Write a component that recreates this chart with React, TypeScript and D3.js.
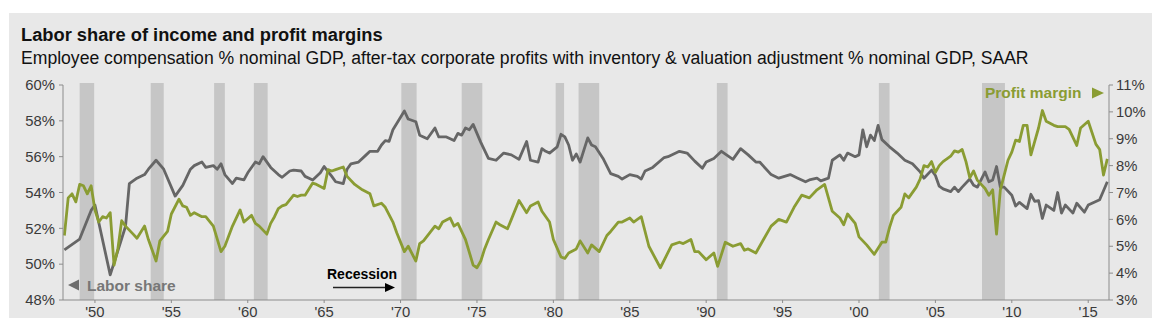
import React from "react";
import * as d3 from "d3";

const laborYears = [1948.0,1949.0,1949.75,1950.0,1951.0,1952.0,1952.25,1952.75,1953.25,1953.5,1954.0,1954.5,1955.25,1955.75,1956.25,1956.5,1957.0,1957.25,1957.75,1958.0,1958.25,1958.5,1959.0,1959.25,1959.75,1960.0,1960.5,1960.75,1961.0,1961.5,1962.0,1962.25,1962.75,1963.0,1963.5,1963.75,1964.25,1964.75,1965.0,1965.5,1965.75,1966.25,1966.5,1966.75,1967.25,1967.75,1968.0,1968.5,1968.75,1969.0,1969.25,1969.5,1970.0,1970.25,1970.5,1971.0,1971.25,1971.75,1972.25,1972.5,1973.0,1973.5,1973.75,1974.0,1974.25,1974.5,1974.75,1975.25,1975.75,1976.25,1976.75,1977.25,1977.75,1978.25,1978.5,1979.0,1979.25,1979.5,1979.75,1980.25,1980.5,1980.75,1981.0,1981.25,1981.5,1981.75,1982.25,1982.5,1982.75,1983.25,1983.75,1984.25,1984.5,1985.0,1985.5,1985.75,1986.0,1986.5,1987.25,1987.5,1988.25,1988.75,1989.25,1989.75,1990.0,1990.5,1991.0,1991.75,1992.25,1992.75,1993.25,1993.5,1994.25,1994.75,1995.5,1996.0,1996.5,1996.75,1997.25,1997.5,1998.0,1998.25,1998.75,1999.0,1999.25,1999.75,2000.0,2000.25,2000.5,2000.75,2001.0,2001.25,2001.5,2002.0,2002.5,2003.0,2003.5,2004.0,2004.25,2004.75,2005.0,2005.25,2005.5,2006.0,2006.25,2006.5,2006.75,2007.25,2007.5,2007.75,2008.25,2008.5,2008.75,2009.0,2009.25,2009.5,2010.0,2010.25,2010.5,2011.0,2011.25,2011.5,2011.75,2012.0,2012.25,2012.75,2013.0,2013.25,2013.5,2014.0,2014.25,2014.75,2015.0,2015.75,2016.0,2016.25];
const laborShare = [50.8,51.4,53.0,53.3,49.4,52.1,54.5,54.8,55.0,55.3,55.8,55.3,53.8,54.4,55.3,55.5,55.7,55.4,55.5,55.3,55.6,55.0,54.5,54.8,54.7,55.1,55.7,55.6,56.0,55.4,55.0,54.85,55.2,55.25,55.2,54.9,54.7,55.1,55.45,54.9,54.6,54.5,55.3,55.6,55.7,56.1,56.3,56.3,56.65,56.9,56.85,57.5,58.2,58.55,58.1,57.95,57.2,57.0,57.6,57.1,57.1,56.9,57.3,57.2,57.6,57.5,57.8,56.8,55.9,55.8,56.2,56.1,55.85,56.85,55.8,55.7,56.45,56.3,56.2,56.55,57.25,57.1,56.65,55.8,56.15,55.7,57.05,56.65,56.55,55.9,55.05,54.9,54.75,55.0,54.9,54.75,55.2,55.4,55.95,56.0,56.3,56.2,55.75,55.35,55.7,55.9,56.3,55.85,56.45,56.1,55.7,55.7,55.0,54.8,55.0,54.8,54.6,54.7,54.8,54.65,54.8,55.8,56.1,55.8,56.2,56.0,56.1,57.5,56.55,57.2,56.9,57.75,56.95,56.55,56.2,55.8,55.6,55.15,54.8,55.25,54.95,54.35,54.2,54.05,54.3,54.05,54.3,54.75,54.4,54.3,55.15,54.6,54.7,55.45,54.3,54.3,53.85,53.25,53.45,53.1,53.9,53.5,53.55,52.55,53.3,53.0,54.0,52.85,53.3,52.85,53.4,52.9,53.3,53.6,54.1,54.6];

const profitYears = [1948.0,1948.25,1948.5,1948.75,1949.0,1949.25,1949.5,1949.75,1950.0,1950.25,1950.5,1950.75,1951.0,1951.25,1951.5,1951.75,1952.0,1952.5,1952.75,1953.25,1953.5,1954.0,1954.25,1954.75,1955.0,1955.5,1955.75,1956.0,1956.25,1956.5,1957.0,1957.25,1957.75,1958.25,1958.5,1959.0,1959.5,1959.75,1960.25,1960.5,1960.75,1961.25,1961.5,1961.75,1962.0,1962.25,1962.5,1963.0,1963.25,1963.5,1963.75,1964.25,1964.5,1965.0,1965.25,1965.5,1965.75,1966.25,1966.5,1967.0,1967.5,1968.0,1968.25,1968.75,1969.0,1969.5,1969.75,1970.25,1970.5,1971.0,1971.25,1971.5,1972.25,1972.5,1972.75,1973.25,1973.5,1973.75,1974.25,1974.75,1975.0,1975.25,1975.5,1975.75,1976.25,1976.5,1977.0,1977.25,1977.75,1978.25,1978.5,1979.0,1979.25,1979.75,1980.0,1980.5,1980.75,1981.0,1981.5,1981.75,1982.25,1982.5,1983.0,1983.5,1983.75,1984.25,1984.5,1985.0,1985.25,1985.75,1986.25,1987.0,1987.75,1988.25,1988.5,1989.0,1989.25,1989.5,1990.0,1990.5,1990.75,1991.25,1991.75,1992.25,1992.5,1992.75,1993.25,1993.75,1994.25,1994.75,1995.25,1995.75,1996.25,1996.75,1997.25,1997.75,1998.25,1998.75,1999.0,1999.25,1999.75,2000.0,2000.5,2001.0,2001.5,2001.75,2002.0,2002.25,2002.75,2003.0,2003.25,2003.75,2004.0,2004.25,2004.5,2004.75,2005.0,2005.25,2005.5,2006.0,2006.25,2006.5,2006.75,2007.0,2007.25,2007.5,2007.75,2008.25,2008.5,2008.75,2009.0,2009.25,2009.5,2009.75,2010.0,2010.25,2010.5,2010.75,2011.0,2011.25,2011.5,2011.75,2012.0,2012.25,2012.75,2013.0,2013.5,2013.75,2014.25,2014.5,2015.0,2015.5,2015.75,2016.0,2016.25];
const profitMargin = [5.4,6.8,6.95,6.65,7.3,7.25,6.95,7.25,6.35,5.9,6.1,6.05,6.25,4.3,4.9,5.95,5.75,5.45,5.3,5.75,5.25,4.45,5.2,5.55,6.2,6.75,6.5,6.45,6.15,6.25,6.1,6.1,5.75,4.8,5.0,5.75,6.35,5.9,6.15,5.85,5.75,5.45,5.85,6.1,6.4,6.5,6.55,6.9,6.85,6.9,6.9,7.35,7.3,7.15,7.85,7.8,7.85,7.95,7.6,7.3,7.1,6.95,6.5,6.6,6.45,5.9,5.5,4.8,5.0,4.45,5.1,5.2,5.75,5.65,5.9,6.05,5.75,5.85,5.25,4.3,4.2,4.45,4.9,5.25,5.9,5.8,5.65,6.0,6.7,6.25,6.5,6.65,6.3,5.9,5.25,4.6,4.55,4.75,4.9,5.2,4.75,5.05,4.8,5.4,5.55,5.9,5.9,6.05,5.9,6.1,5.0,4.2,5.05,5.15,5.1,5.25,4.8,4.8,4.5,4.75,4.25,5.15,5.0,5.1,4.85,4.9,4.75,5.25,5.75,6.0,5.9,6.45,6.9,6.8,7.1,7.3,6.3,6.05,5.8,6.2,5.85,5.35,5.05,4.7,5.15,5.15,5.7,6.15,6.45,6.95,6.8,7.2,7.5,8.0,7.95,8.15,7.75,8.0,8.15,8.35,8.55,8.5,8.6,8.15,7.55,7.8,7.45,7.15,6.9,7.1,5.45,7.1,7.65,8.2,8.5,8.95,8.9,9.5,9.5,8.4,8.9,9.4,10.05,9.65,9.5,9.45,9.45,9.35,8.75,9.4,9.65,8.8,8.6,7.65,8.25];

const recessionStarts = [1949.0,1953.65,1957.8,1960.4,1970.05,1974.0,1980.15,1981.65,1990.7,2001.3,2008.05];
const recessionEnds = [1949.95,1954.5,1958.5,1961.3,1971.05,1975.35,1980.7,1983.0,1991.4,2002.0,2009.55];

const xTickYears = [1950,1955,1960,1965,1970,1975,1980,1985,1990,1995,2000,2005,2010,2015];
const leftTicks = [48,50,52,54,56,58,60];
const rightTicks = [3,4,5,6,7,8,9,10,11];

const title = "Labor share of income and profit margins";
const subtitle = "Employee compensation % nominal GDP, after-tax corporate profits with inventory & valuation adjustment % nominal GDP, SAAR";

const FONT = "'Liberation Sans', Arial, Helvetica, sans-serif";
const GRAY_LINE = "#666666";
const GREEN = "#8a9c33";

export default function App() {
  const left = 63, right = 1109, top = 85, bottom = 300;
  const x = d3.scaleLinear().domain([1947.91, 2016.36]).range([left, right]);
  const yL = d3.scaleLinear().domain([48, 60]).range([bottom, top]);
  const yR = d3.scaleLinear().domain([3, 11]).range([bottom, top]);

  const laborData = laborYears.map((yr, i) => [yr, laborShare[i]] as [number, number]);
  const profitData = profitYears.map((yr, i) => [yr, profitMargin[i]] as [number, number]);

  const laborLine = d3.line<[number, number]>().x(d => x(d[0])).y(d => yL(d[1]));
  const profitLine = d3.line<[number, number]>().x(d => x(d[0])).y(d => yR(d[1]));

  const axisColor = "#8c8c8c";
  const tickText = "#3a3a3a";

  return (
    <svg width={1166} height={332} style={{ position: "absolute", left: 0, top: 0, display: "block" }} fontFamily={FONT}>
      <rect x={0} y={0} width={1166} height={332} fill="#ffffff" />
      <rect x={9} y={13} width={1143} height={305} fill="#e8e8e8" />
      <text x={21} y={41} fontSize={18.3} fontWeight="bold" fill="#111">{title}</text>
      <text x={21} y={63.5} fontSize={17.6} fill="#111">{subtitle}</text>

      {recessionStarts.map((s, i) => (
        <rect key={"r" + i} x={x(s)} y={top - 2} width={x(recessionEnds[i]) - x(s)} height={bottom - top + 2} fill="#c6c6c6" />
      ))}

      <path d={laborLine(laborData) || ""} fill="none" stroke={GRAY_LINE} strokeWidth={2.8} strokeLinejoin="round" />
      <path d={profitLine(profitData) || ""} fill="none" stroke={GREEN} strokeWidth={2.8} strokeLinejoin="round" />

      <line x1={left} x2={left} y1={top} y2={bottom} stroke={axisColor} strokeWidth={1} />
      <line x1={right} x2={right} y1={top} y2={bottom} stroke={axisColor} strokeWidth={1} />
      <line x1={left} x2={right} y1={bottom} y2={bottom} stroke={axisColor} strokeWidth={1} />

      {leftTicks.map(t => (
        <g key={"l" + t}>
          <line x1={left - 4} x2={left} y1={yL(t)} y2={yL(t)} stroke={axisColor} />
          <text x={55} y={yL(t)} dy="0.35em" textAnchor="end" fontSize={14.8} fill={tickText}>{t}%</text>
        </g>
      ))}
      {rightTicks.map(t => (
        <g key={"rt" + t}>
          <line x1={right} x2={right + 4} y1={yR(t)} y2={yR(t)} stroke={axisColor} />
          <text x={1116} y={yR(t)} dy="0.35em" textAnchor="start" fontSize={14.8} fill={tickText}>{t}%</text>
        </g>
      ))}
      {xTickYears.map(yr => (
        <g key={"x" + yr}>
          <line x1={x(yr)} x2={x(yr)} y1={bottom} y2={bottom + 3} stroke={axisColor} />
          <text x={x(yr)} y={317} textAnchor="middle" fontSize={14.8} fill={tickText}>{"'" + String(yr).slice(2)}</text>
        </g>
      ))}

      <path d="M68,285 L79,279.5 L79,290.5 Z" fill="#6d6d6d" />
      <text x={87} y={290.5} fontSize={15.5} fontWeight="bold" fill="#777">Labor share</text>
      <text x={985} y={98.3} fontSize={15.5} fontWeight="bold" fill={GREEN}>Profit margin</text>
      <path d="M1104,93 L1092,87.5 L1092,98.5 Z" fill={GREEN} />

      <text x={327} y={279} fontSize={14} fontWeight="bold" fill="#000">Recession</text>
      <line x1={333} x2={387} y1={287.5} y2={287.5} stroke="#222" strokeWidth={1.5} />
      <path d="M395,287.5 L385,283 L385,292 Z" fill="#000" />
    </svg>
  );
}
